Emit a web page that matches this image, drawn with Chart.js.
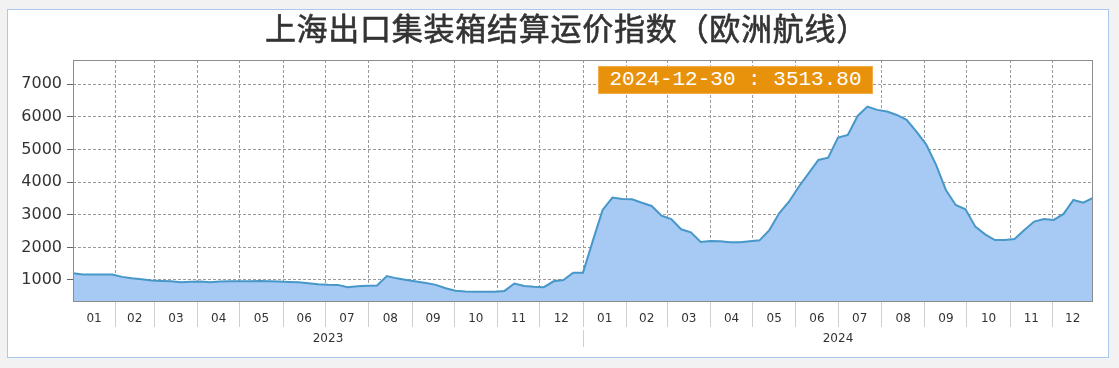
<!DOCTYPE html>
<html>
<head>
<meta charset="utf-8">
<script src="https://cdn.jsdelivr.net/npm/chart.js"></script>
<style>
  html, body { margin: 0; padding: 0; width: 1119px; height: 368px; overflow: hidden; background: #f2f2f2; }
  .panel { position: absolute; left: 7px; top: 9px; width: 1102px; height: 349px; box-sizing: border-box;
           background: #fff; border: 1px solid #a9c9ef; }
  #nat { position: absolute; left: 0; top: 0; }
  .title { position: absolute; left: 7px; top: 11px; width: 1119px; text-align: center; line-height: 32px;
           font-family: "Noto Sans CJK SC", sans-serif; font-weight: normal; font-size: 31px; color: #333;
           letter-spacing: 0.75px; -webkit-text-stroke: 0.6px #333; }
  .tag { position: absolute; left: 598px; top: 66px; width: 275px; height: 28px; box-sizing: border-box;
         background: #e8910a; border: 1px solid #f2ad4a; color: #fff; text-align: center; line-height: 26px;
         font-family: "Liberation Mono", monospace; font-size: 21px; white-space: pre; }
</style>
</head>
<body>
<div class="panel"></div>
<canvas id="nat" width="1119" height="368"></canvas>
<div class="title">上海出口集装箱结算运价指数（欧洲航线）</div>
<div class="tag" id="tag"></div>
<script>
// weekly SCFIS (Europe), every Monday from 2023-01-02
const firstDate = '2023-01-02'
const indexValues = [
  1205, 1170, 1170, 1165, 1165, 1095, 1050, 1020, 985, 970,
  960, 930, 945, 955, 930, 955, 960, 965, 965, 970,
  960, 950, 940, 930, 900, 870, 855, 850, 775, 810,
  820, 830, 1120, 1050, 1000, 955, 905, 850, 745, 670,
  650, 640, 640, 640, 665, 890, 815, 790, 780, 960,
  1000, 1225, 1225, 2200, 3150, 3525, 3485, 3475, 3370, 3270,
  2970, 2870, 2555, 2460, 2165, 2195, 2185, 2155, 2160, 2185,
  2215, 2530, 3045, 3400, 3860, 4270, 4680, 4750, 5365, 5445,
  6030, 6315, 6215, 6165, 6060, 5910, 5550, 5150, 4530, 3760,
  3300, 3170, 2635, 2400, 2225, 2225, 2255, 2530, 2790, 2870,
  2840, 3025, 3455, 3370, 3513.80
]
const monthLabels = ['01', '02', '03', '04', '05', '06', '07', '08', '09', '10', '11', '12']
const yearLabels = ['2023', '2024']
const yTicks = [1000, 2000, 3000, 4000, 5000, 6000, 7000]

const DAY = 86400000
const t0 = Date.parse(firstDate + 'T00:00:00Z')
const dayOf = (y, m) => (Date.UTC(y, m, 1) - t0) / DAY
const points = indexValues.map((v, i) => ({ x: i * 7, y: v }))
const lastDay = points[points.length - 1].x

// month ticks: boundaries carry the grid lines, mid points carry the labels
const monthTicks = []
yearLabels.forEach(yl => {
  monthLabels.forEach((ml, mi) => {
    const y = Number(yl)
    const s = Math.max(0, dayOf(y, mi))
    const e = Math.min(lastDay, dayOf(y, mi + 1))
    if (s > 0) monthTicks.push({ value: s, label: '', line: true })
    monthTicks.push({ value: (s + e) / 2, label: ml, line: false })
  })
})
const yearTicks = []
yearLabels.forEach(yl => {
  const y = Number(yl)
  const s = Math.max(0, dayOf(y, 0))
  const e = Math.min(lastDay, dayOf(y + 1, 0))
  if (s > 0) yearTicks.push({ value: s, label: '', line: true })
  yearTicks.push({ value: (s + e) / 2, label: yl, line: false })
})

const lastD = new Date(t0 + lastDay * DAY).toISOString().slice(0, 10)
document.getElementById('tag').textContent = lastD + ' : ' + indexValues[indexValues.length - 1].toFixed(2)

const clear = 'rgba(0,0,0,0)'
const tickFont = { family: 'DejaVu Sans', size: 12 }

const frame = {
  id: 'frame',
  afterDatasetsDraw(chart) {
    const { ctx, chartArea: a } = chart
    ctx.save()
    ctx.strokeStyle = '#8c8c8c'
    ctx.lineWidth = 1
    ctx.strokeRect(a.left + 0.5, a.top + 0.5, a.right - a.left - 1, a.bottom - a.top - 1)
    ctx.restore()
  }
}

const nat = document.getElementById('nat')
new Chart(nat, {
  type: 'line',
  data: {
    datasets: [{
      data: points,
      borderColor: '#4797c9',
      backgroundColor: '#a6caf3',
      borderWidth: 2,
      fill: 'start',
      pointRadius: 0,
      tension: 0
    }]
  },
  options: {
    responsive: false,
    animation: false,
    devicePixelRatio: 1,
    layout: { padding: { left: 0, top: 60, right: 26, bottom: 16 } },
    plugins: { legend: { display: false }, tooltip: { enabled: false } },
    scales: {
      x: {
        type: 'linear', min: 0, max: lastDay, position: 'bottom', weight: 0,
        afterBuildTicks: s => { s.ticks = monthTicks.map(t => ({ value: t.value })) },
        afterFit: s => { s.height = 28 },
        ticks: { autoSkip: false, maxRotation: 0, padding: -15, color: '#333', font: tickFont,
                 callback: (v, i) => monthTicks[i] ? monthTicks[i].label : '' },
        grid: {
          color: c => monthTicks[c.index] && monthTicks[c.index].line ? '#9a9a9a' : clear,
          tickColor: c => monthTicks[c.index] && monthTicks[c.index].line ? '#cfcfcf' : clear,
          tickLength: 25
        },
        border: { display: false, dash: [3, 2] }
      },
      xYear: {
        type: 'linear', min: 0, max: lastDay, position: 'bottom', weight: 1,
        afterBuildTicks: s => { s.ticks = yearTicks.map(t => ({ value: t.value })) },
        afterFit: s => { s.height = 22 },
        ticks: { autoSkip: false, maxRotation: 0, padding: -15, color: '#333', font: tickFont,
                 callback: (v, i) => yearTicks[i] ? yearTicks[i].label : '' },
        grid: {
          drawOnChartArea: false,
          tickColor: c => yearTicks[c.index] && yearTicks[c.index].line ? '#cfcfcf' : clear,
          tickLength: 17
        },
        border: { display: false }
      },
      y: {
        min: 325, max: 7745,
        afterBuildTicks: s => { s.ticks = yTicks.map(v => ({ value: v })) },
        afterFit: s => { s.width = 73 },
        ticks: { color: '#333', font: { family: 'DejaVu Sans', size: 16 }, padding: 5, callback: v => String(v) },
        grid: { color: '#9a9a9a', tickColor: '#666', tickLength: 6 },
        border: { display: false, dash: [3, 2] }
      }
    }
  },
  plugins: [frame]
})
</script>
</body>
</html>
